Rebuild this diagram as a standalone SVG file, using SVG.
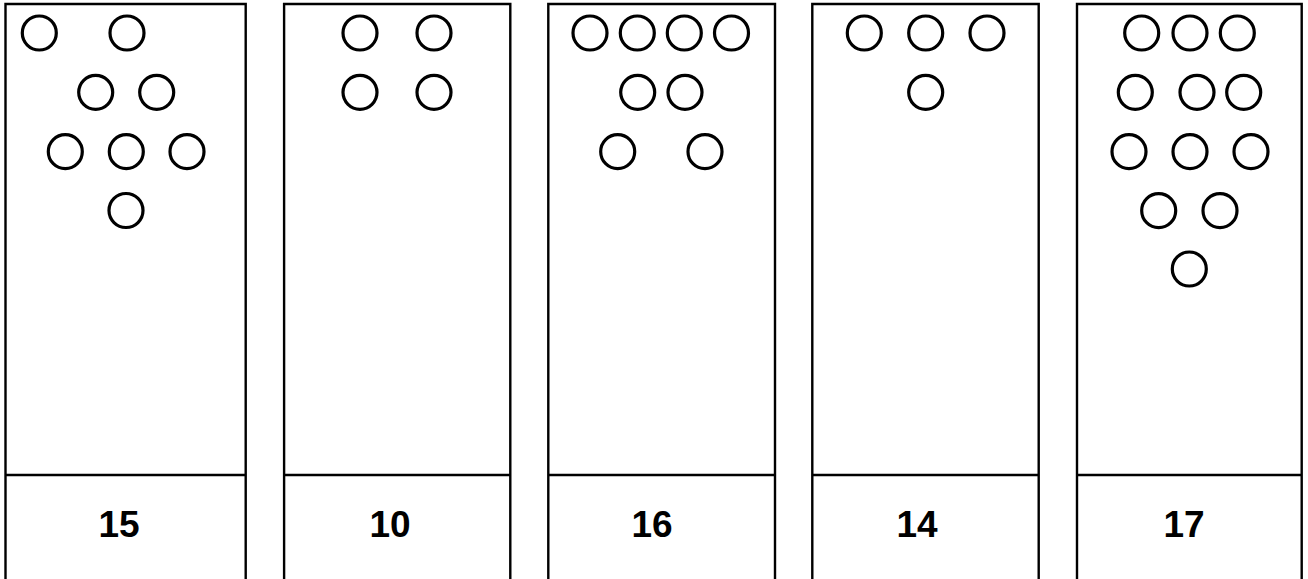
<svg xmlns="http://www.w3.org/2000/svg" width="1308" height="579" viewBox="0 0 1308 579">
<style>
.box{fill:none;stroke:#000;stroke-width:2.4}
.c{fill:none;stroke:#000;stroke-width:3.2}
.lbl{font-family:"Liberation Sans",Arial,sans-serif;font-weight:bold;font-size:37px;fill:#000;text-anchor:middle}
</style>
<rect width="1308" height="579" fill="#fff"/>
<g id="card1">
<path class="box" d="M5.5,585 V4 H245.7 V585 M5.5,475 H245.7"/>
<circle class="c" cx="39.3" cy="33" r="17"/><circle class="c" cx="127" cy="33" r="17"/>
<circle class="c" cx="95.7" cy="92.3" r="17"/><circle class="c" cx="156.7" cy="92.3" r="17"/>
<circle class="c" cx="65.3" cy="151.7" r="17"/><circle class="c" cx="126.3" cy="151.7" r="17"/><circle class="c" cx="187" cy="151.7" r="17"/>
<circle class="c" cx="126" cy="210.5" r="17"/>
<text class="lbl" x="119" y="537">15</text>
</g>
<g id="card2">
<path class="box" d="M284.1,585 V4 H510.3 V585 M284.1,475 H510.3"/>
<circle class="c" cx="360" cy="33" r="17"/><circle class="c" cx="434" cy="33" r="17"/>
<circle class="c" cx="360" cy="92.3" r="17"/><circle class="c" cx="434" cy="92.3" r="17"/>
<text class="lbl" x="390" y="537">10</text>
</g>
<g id="card3">
<path class="box" d="M548.3,585 V4 H775 V585 M548.3,475 H775"/>
<circle class="c" cx="590" cy="33" r="17"/><circle class="c" cx="637.3" cy="33" r="17"/><circle class="c" cx="684.3" cy="33" r="17"/><circle class="c" cx="731.5" cy="33" r="17"/>
<circle class="c" cx="637.7" cy="92.3" r="17"/><circle class="c" cx="685" cy="92.3" r="17"/>
<circle class="c" cx="617.7" cy="151.7" r="17"/><circle class="c" cx="705" cy="151.7" r="17"/>
<text class="lbl" x="652" y="537">16</text>
</g>
<g id="card4">
<path class="box" d="M812.3,585 V4 H1038.7 V585 M812.3,475 H1038.7"/>
<circle class="c" cx="864.3" cy="33" r="17"/><circle class="c" cx="925.7" cy="33" r="17"/><circle class="c" cx="987" cy="33" r="17"/>
<circle class="c" cx="925.7" cy="92.3" r="17"/>
<text class="lbl" x="917" y="537">14</text>
</g>
<g id="card5">
<path class="box" d="M1077,585 V4 H1301.7 V585 M1077,475 H1301.7"/>
<circle class="c" cx="1141.7" cy="33" r="17"/><circle class="c" cx="1190" cy="33" r="17"/><circle class="c" cx="1237.3" cy="33" r="17"/>
<circle class="c" cx="1135.3" cy="92.3" r="17"/><circle class="c" cx="1197" cy="92.3" r="17"/><circle class="c" cx="1243.7" cy="92.3" r="17"/>
<circle class="c" cx="1129" cy="151.7" r="17"/><circle class="c" cx="1190" cy="151.7" r="17"/><circle class="c" cx="1251" cy="151.7" r="17"/>
<circle class="c" cx="1158.7" cy="210.7" r="17"/><circle class="c" cx="1220" cy="210.7" r="17"/>
<circle class="c" cx="1189.3" cy="269" r="17"/>
<text class="lbl" x="1184" y="537">17</text>
</g>
<g id="connectors"/>
</svg>
